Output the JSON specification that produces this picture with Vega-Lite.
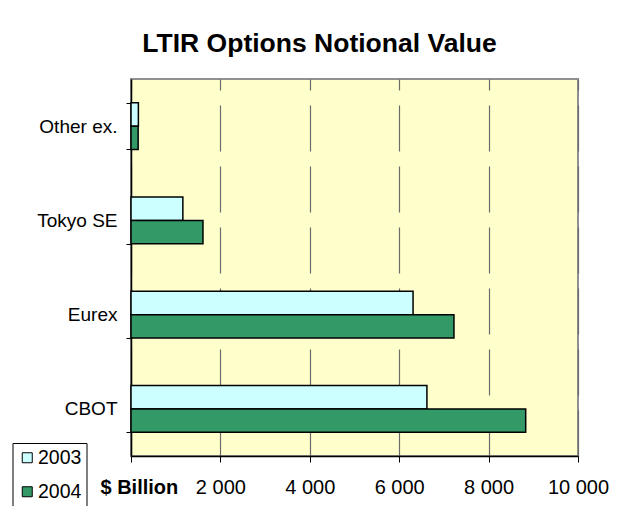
{
  "$schema": "https://vega.github.io/schema/vega-lite/v6.json",
  "autosize": "none",
  "width": 447,
  "height": 377,
  "padding": {"left": 131, "top": 79, "right": 51, "bottom": 50},
  "background": "white",
  "title": {
    "text": "LTIR Options Notional Value",
    "font": "Liberation Sans",
    "fontSize": 26.5,
    "fontWeight": "bold",
    "color": "black",
    "anchor": "middle",
    "dx": -35,
    "offset": -8.5,
    "baseline": "alphabetic"
  },
  "data": {
    "values": [
      {"exchange": "Other ex.", "year": "2003", "value": 165},
      {"exchange": "Other ex.", "year": "2004", "value": 160},
      {"exchange": "Tokyo SE", "year": "2003", "value": 1160},
      {"exchange": "Tokyo SE", "year": "2004", "value": 1610},
      {"exchange": "Eurex", "year": "2003", "value": 6310},
      {"exchange": "Eurex", "year": "2004", "value": 7225},
      {"exchange": "CBOT", "year": "2003", "value": 6620},
      {"exchange": "CBOT", "year": "2004", "value": 8830}
    ]
  },
  "mark": {"type": "bar", "stroke": "black", "strokeWidth": 1.5},
  "encoding": {
    "y": {
      "field": "exchange",
      "type": "nominal",
      "sort": ["Other ex.", "Tokyo SE", "Eurex", "CBOT"],
      "scale": {"paddingInner": 0.505, "paddingOuter": 0.2525},
      "axis": {
        "title": null,
        "tickBand": "extent",
        "tickSize": 5,
        "tickColor": "black",
        "domainColor": "black",
        "domainWidth": 1.5,
        "labelFont": "Liberation Sans",
        "labelFontSize": 19,
        "labelColor": "black",
        "labelPadding": 9,
        "grid": false
      }
    },
    "yOffset": {"field": "year", "type": "nominal", "sort": ["2003", "2004"]},
    "x": {
      "field": "value",
      "type": "quantitative",
      "scale": {"domain": [0, 10000], "nice": false},
      "axis": {
        "values": [0, 2000, 4000, 6000, 8000, 10000],
        "labelExpr": "datum.value == 0 ? '' : replace(format(datum.value, ','), ',', ' ')",
        "labelFlush": false,
        "labelOverlap": false,
        "grid": true,
        "gridColor": "#6b6b6b",
        "gridWidth": 1.2,
        "gridOpacity": 1,
        "gridDash": [46, 15],
        "gridDashOffset": 0,
        "tickSize": 6,
        "tickColor": "black",
        "domainColor": "black",
        "domainWidth": 1.5,
        "labelFont": "Liberation Sans",
        "labelFontSize": 20,
        "labelColor": "black",
        "labelPadding": 15,
        "title": "$ Billion",
        "titleFont": "Liberation Sans",
        "titleFontSize": 20,
        "titleFontWeight": "bold",
        "titleColor": "black",
        "titleAnchor": "start",
        "titleAlign": "left",
        "titleBaseline": "alphabetic",
        "titleX": -31,
        "titleY": 37
      }
    },
    "color": {
      "field": "year",
      "type": "nominal",
      "scale": {"domain": ["2003", "2004"], "range": ["#CCFFFF", "#339966"]},
      "legend": {
        "title": null,
        "orient": "none",
        "legendX": -118.5,
        "legendY": 364,
        "strokeColor": "black",
        "fillColor": "white",
        "padding": 5,
        "symbolType": "square",
        "symbolSize": 100,
        "symbolStrokeColor": "black",
        "symbolStrokeWidth": 1,
        "labelFont": "Liberation Sans",
        "labelFontSize": 19.5,
        "labelColor": "black",
        "rowPadding": 13,
        "labelOffset": 1
      }
    }
  },
  "config": {
    "view": {"fill": "#FFFFCC", "stroke": "#909090", "strokeWidth": 2}
  }
}
